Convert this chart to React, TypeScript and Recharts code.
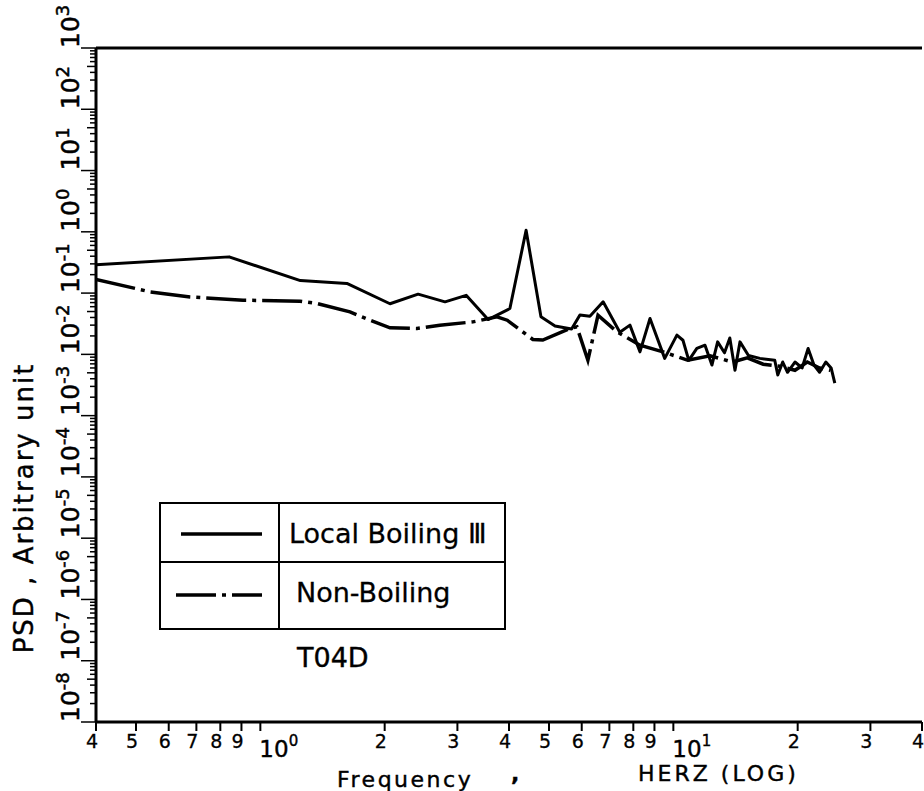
import { LineChart, Line, XAxis, YAxis, ReferenceLine, Legend, Customized } from 'recharts';

// Local Boiling III (solid)
const localFreq = [0.4, 0.84, 1.25, 1.62, 2.06, 2.41, 2.8, 3.15, 3.56, 4.02, 4.4, 4.78, 5.17, 5.67, 5.94, 6.28, 6.76, 7.42, 7.85, 8.3, 8.78, 9.53, 10.2, 10.55, 10.9, 11.4, 11.93, 12.4, 12.8, 13.3, 13.7, 14.1, 14.5, 15.2, 16.2, 17.6, 17.9, 18.4, 18.9, 19.7, 20.5, 21.2, 21.9, 22.6, 23.4, 24.1, 24.6];
const localPsd = [0.29, 0.39, 0.16, 0.144, 0.067, 0.096, 0.072, 0.092, 0.037, 0.056, 1.06, 0.041, 0.029, 0.026, 0.044, 0.042, 0.072, 0.023, 0.03, 0.011, 0.0385, 0.0086, 0.0206, 0.017, 0.008, 0.0125, 0.0141, 0.0067, 0.016, 0.0106, 0.0185, 0.0055, 0.016, 0.0096, 0.0086, 0.008, 0.0046, 0.0075, 0.0051, 0.0075, 0.006, 0.0125, 0.0067, 0.0051, 0.0075, 0.006, 0.0034];

// Non-Boiling (dash-dot)
const nonFreq = [0.4, 0.54, 0.676, 0.908, 1.248, 1.372, 1.648, 1.843, 2.06, 2.395, 2.72, 3.27, 3.74, 3.96, 4.57, 4.83, 5.62, 5.84, 6.21, 6.57, 7.3, 8.3, 9.44, 10.84, 12.27, 13.9, 15.1, 16.5, 18.1, 19.7, 21.1, 22.6, 24.0];
const nonPsd = [0.167, 0.105, 0.0867, 0.0766, 0.0738, 0.0676, 0.0493, 0.0361, 0.0271, 0.0265, 0.0299, 0.0339, 0.0409, 0.0361, 0.0175, 0.0171, 0.0265, 0.0281, 0.008, 0.0436, 0.0233, 0.0141, 0.011, 0.008, 0.0095, 0.0075, 0.0088, 0.0069, 0.0064, 0.0055, 0.0075, 0.006, 0.0055];

const xTicks = [0.4, 0.5, 0.6, 0.7, 0.8, 0.9, 1, 2, 3, 4, 5, 6, 7, 8, 9, 10, 20, 30, 40];
const xTickLabels = ['4', '5', '6', '7', '8', '9', '10^0', '2', '3', '4', '5', '6', '7', '8', '9', '10^1', '2', '3', '4'];

const yDecades = [-8, -7, -6, -5, -4, -3, -2, -1, 0, 1, 2, 3];
const yMinorSteps = [2, 3, 4, 5, 6, 7, 8, 9];

const FONT = '"DejaVu Sans", Arial, sans-serif';

const localData = localFreq.map((f, i) => ({ f, psd: localPsd[i] }));
const nonData = nonFreq.map((f, i) => ({ f, psd: nonPsd[i] }));

const yTicks: number[] = [];
yDecades.forEach((d) => {
  yTicks.push(Math.pow(10, d));
  if (d < 3) yMinorSteps.forEach((m) => yTicks.push(m * Math.pow(10, d)));
});

const XTick = (props: any) => {
  const { x, y, payload } = props;
  const idx = xTicks.indexOf(payload.value);
  const label = xTickLabels[idx] ?? '';
  if (label.startsWith('10^')) {
    return (
      <g>
        <line x1={x} y1={y} x2={x} y2={y + 9} stroke="#000" strokeWidth={2} />
        <text x={x - 1} y={y + 35} fontFamily={FONT} fontSize={23} fill="#000" stroke="#000" strokeWidth={0.4}>
          10
          <tspan dy={-11} fontSize={15}>{label.slice(3)}</tspan>
        </text>
      </g>
    );
  }
  return (
    <g>
      <line x1={x} y1={y} x2={x} y2={y + 9} stroke="#000" strokeWidth={2} />
      <text x={x - 4} y={y + 26} textAnchor="middle" fontFamily={FONT} fontSize={19} fill="#000" stroke="#000" strokeWidth={0.3}>
        {label}
      </text>
    </g>
  );
};

const YTick = (props: any) => {
  const { x, y, payload } = props;
  const v = payload.value as number;
  const exp = Math.round(Math.log10(v));
  const major = Math.abs(v - Math.pow(10, exp)) < Math.pow(10, exp) * 1e-6;
  const mant = Math.round(v / Math.pow(10, Math.floor(Math.log10(v) + 1e-9)));
  const len = major ? 15 : mant === 5 ? 9 : 6;
  return (
    <g>
      <line x1={x - len} y1={y} x2={x} y2={y} stroke="#000" strokeWidth={1.5} />
      {major && (
        <text
          x={x - 17}
          y={y}
          transform={`rotate(-90, ${x - 17}, ${y})`}
          fontFamily={FONT}
          fontSize={25}
          fill="#000"
          stroke="#000"
          strokeWidth={0.5}
        >
          10
          <tspan dy={-10} fontSize={18}>{String(exp)}</tspan>
        </text>
      )}
    </g>
  );
};

const LegendBox = () => (
  <svg width={348} height={130} style={{ display: 'block' }}>
    <rect x={1} y={1} width={345} height={126} fill="#fff" stroke="#000" strokeWidth={2} />
    <line x1={120} y1={1} x2={120} y2={127} stroke="#000" strokeWidth={2} />
    <line x1={1} y1={60} x2={346} y2={60} stroke="#000" strokeWidth={2} />
    <line x1={22} y1={32} x2={103} y2={32} stroke="#000" strokeWidth={3.5} />
    <line x1={17} y1={93} x2={103} y2={93} stroke="#000" strokeWidth={3.5} strokeDasharray="40 6 4 6" />
    <text x={130} y={41} fontFamily={FONT} fontSize={27} fill="#000" stroke="#000" strokeWidth={0.3}>Local Boiling Ⅲ</text>
    <text x={137} y={100} fontFamily={FONT} fontSize={27} fill="#000" stroke="#000" strokeWidth={0.3}>Non-Boiling</text>
  </svg>
);

const Labels = () => (
  <g fontFamily={FONT} fill="#000" stroke="#000" strokeWidth={0.4}>
    <text x={337} y={787} fontSize={22} letterSpacing={2.5}>Frequency</text>
    <text x={511} y={781} fontSize={22} fontWeight="bold">,</text>
    <text x={638} y={781} fontSize={22} letterSpacing={3}>HERZ (LOG)</text>
    <text x={297} y={667} fontSize={27}>T04D</text>
    <text
      x={33}
      y={508}
      transform="rotate(-90, 33, 508)"
      textAnchor="middle"
      fontSize={26}
      letterSpacing={2}
    >
      PSD , Arbitrary unit
    </text>
  </g>
);

const App = () => {
  return (
    <div style={{ position: 'absolute', left: 0, top: 0, width: 924, height: 791, background: '#fff' }}>
      <LineChart width={924} height={791} margin={{ top: 48, right: 2, bottom: 0, left: 0 }}>
        <XAxis
          dataKey="f"
          type="number"
          scale="log"
          domain={[0.4, 40]}
          ticks={xTicks}
          interval={0}
          allowDataOverflow
          height={69}
          tickSize={0}
          tickMargin={0}
          tick={<XTick />}
          axisLine={{ stroke: '#000', strokeWidth: 3 }}
        />
        <YAxis
          type="number"
          scale="log"
          domain={[1e-8, 1e3]}
          ticks={yTicks}
          interval={0}
          allowDataOverflow
          width={96}
          tickSize={0}
          tickMargin={0}
          tick={<YTick />}
          axisLine={{ stroke: '#000', strokeWidth: 3 }}
        />
        <ReferenceLine y={1000} stroke="#000" strokeWidth={3} />
        <Line
          data={localData}
          dataKey="psd"
          type="linear"
          stroke="#000"
          strokeWidth={3}
          strokeLinejoin="round"
          dot={false}
          isAnimationActive={false}
          name="Local Boiling Ⅲ"
        />
        <Line
          data={nonData}
          dataKey="psd"
          type="linear"
          stroke="#000"
          strokeWidth={3.5}
          strokeDasharray="40 6 4 6"
          dot={false}
          isAnimationActive={false}
          name="Non-Boiling"
        />
        <Legend
          verticalAlign="middle"
          align="center"
          content={() => <LegendBox />}
          wrapperStyle={{ position: 'absolute', left: 159, top: 502, width: 348, height: 130 }}
        />
        <Customized component={Labels} />
      </LineChart>
    </div>
  );
};

export default App;
